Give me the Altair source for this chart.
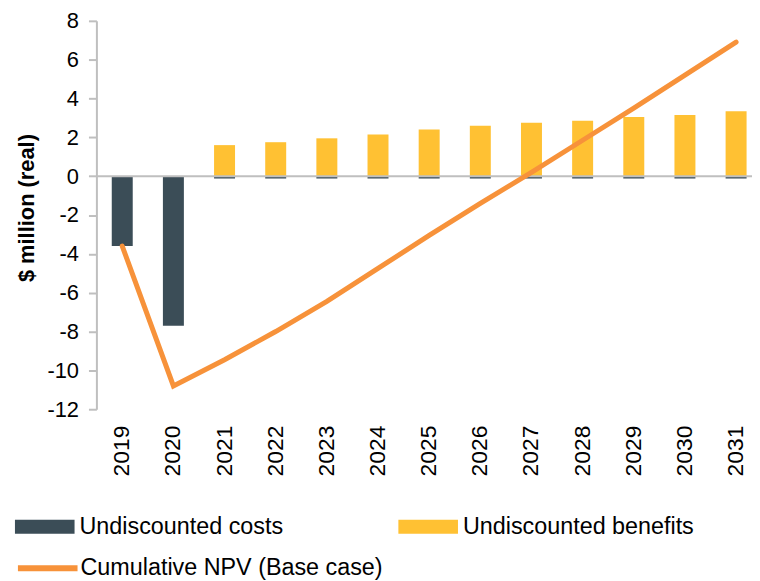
import altair as alt
import pandas as pd

years = ["2019", "2020", "2021", "2022", "2023", "2024", "2025",
         "2026", "2027", "2028", "2029", "2030", "2031"]
costs = [-3.6, -7.7, -0.12, -0.12, -0.12, -0.12, -0.12,
         -0.12, -0.12, -0.12, -0.12, -0.12, -0.12]
benefits = [0.0, 0.0, 1.6, 1.75, 1.95, 2.15, 2.4,
            2.6, 2.75, 2.85, 3.05, 3.15, 3.35]
npv = [-3.6, -10.8, -9.45, -8.0, -6.45, -4.75, -3.05,
       -1.4, 0.2, 1.85, 3.5, 5.2, 6.9]
bar_series = ["Undiscounted costs", "Undiscounted benefits"]
line_series = ["Cumulative NPV (Base case)"]
y_ticks = [-12, -10, -8, -6, -4, -2, 0, 2, 4, 6, 8]

df_bars = pd.DataFrame({
    "year": years * 2,
    "value": costs + benefits,
    "series": [bar_series[0]] * len(years) + [bar_series[1]] * len(years),
    "order": [0] * len(years) + [1] * len(years),
})
df_line = pd.DataFrame({"year": years, "npv": npv, "series": line_series * len(years)})
df_zero = pd.DataFrame({"z": [0]})

FONT = "Liberation Sans"
LEG_FS = 23.5

x_enc = alt.X(
    "year:O", sort=years,
    scale=alt.Scale(paddingInner=0.59, paddingOuter=0.203, align=0.739),
    axis=alt.Axis(title=None, labelAngle=270, domain=False, ticks=False,
                  labelPadding=16, labelFontSize=23),
)
y_axis = alt.Axis(
    title="$ million (real)", values=y_ticks, grid=False,
    labelExpr="datum.value < 0 ? '-' + abs(datum.value) : '' + datum.value",
    domainColor="#BFBFBF", domainWidth=2, tickColor="#BFBFBF", tickWidth=2,
    tickSize=8, labelPadding=10, labelFontSize=22,
    titleFontSize=22, titleFontWeight="bold", titlePadding=9, titleY=188,
)
y_scale = alt.Scale(domain=[-12, 8], nice=False)

bars = alt.Chart(df_bars).mark_bar().encode(
    x=x_enc,
    y=alt.Y("value:Q", scale=y_scale, axis=y_axis, stack="zero"),
    color=alt.Color(
        "series:N",
        scale=alt.Scale(domain=bar_series, range=["#3B4D57", "#FFC133"]),
        legend=alt.Legend(
            title=None, orient="none", legendX=-82, legendY=479,
            direction="horizontal", columns=2, columnPadding=115,
            symbolType="M-1,-0.233L1,-0.233L1,0.233L-1,0.233Z",
            symbolSize=3600, symbolStrokeWidth=0, symbolOpacity=1,
            labelFontSize=LEG_FS, labelOffset=5, padding=0, labelLimit=0,
        ),
    ),
    order=alt.Order("order:Q"),
)

zero = alt.Chart(df_zero).mark_rule(color="#BFBFBF", strokeWidth=2).encode(
    y=alt.Y("z:Q", scale=y_scale, axis=y_axis)
)

line = alt.Chart(df_line).mark_line(
    strokeWidth=5, strokeJoin="miter", strokeCap="round"
).encode(
    x=x_enc,
    y=alt.Y("npv:Q", scale=y_scale, axis=y_axis),
    stroke=alt.Stroke(
        "series:N",
        scale=alt.Scale(domain=line_series, range=["#F7923A"]),
        legend=alt.Legend(
            title=None, orient="none", legendX=-82, legendY=518,
            symbolType="stroke", symbolSize=3600, symbolStrokeWidth=6,
            labelFontSize=LEG_FS, labelOffset=0, padding=0, labelLimit=0,
        ),
    ),
)

chart = alt.layer(bars, zero, line).properties(
    width=660, height=391,
    autosize=alt.AutoSizeParams(type="none"),
    padding={"left": 89, "top": 11, "right": 0, "bottom": 170},
).configure_view(stroke=None).configure_axis(
    labelFont=FONT, titleFont=FONT, labelColor="black", titleColor="black"
).configure_legend(
    labelFont=FONT, labelColor="black"
)

chart.save("out.html", embed_options={"renderer": "svg", "actions": False})
